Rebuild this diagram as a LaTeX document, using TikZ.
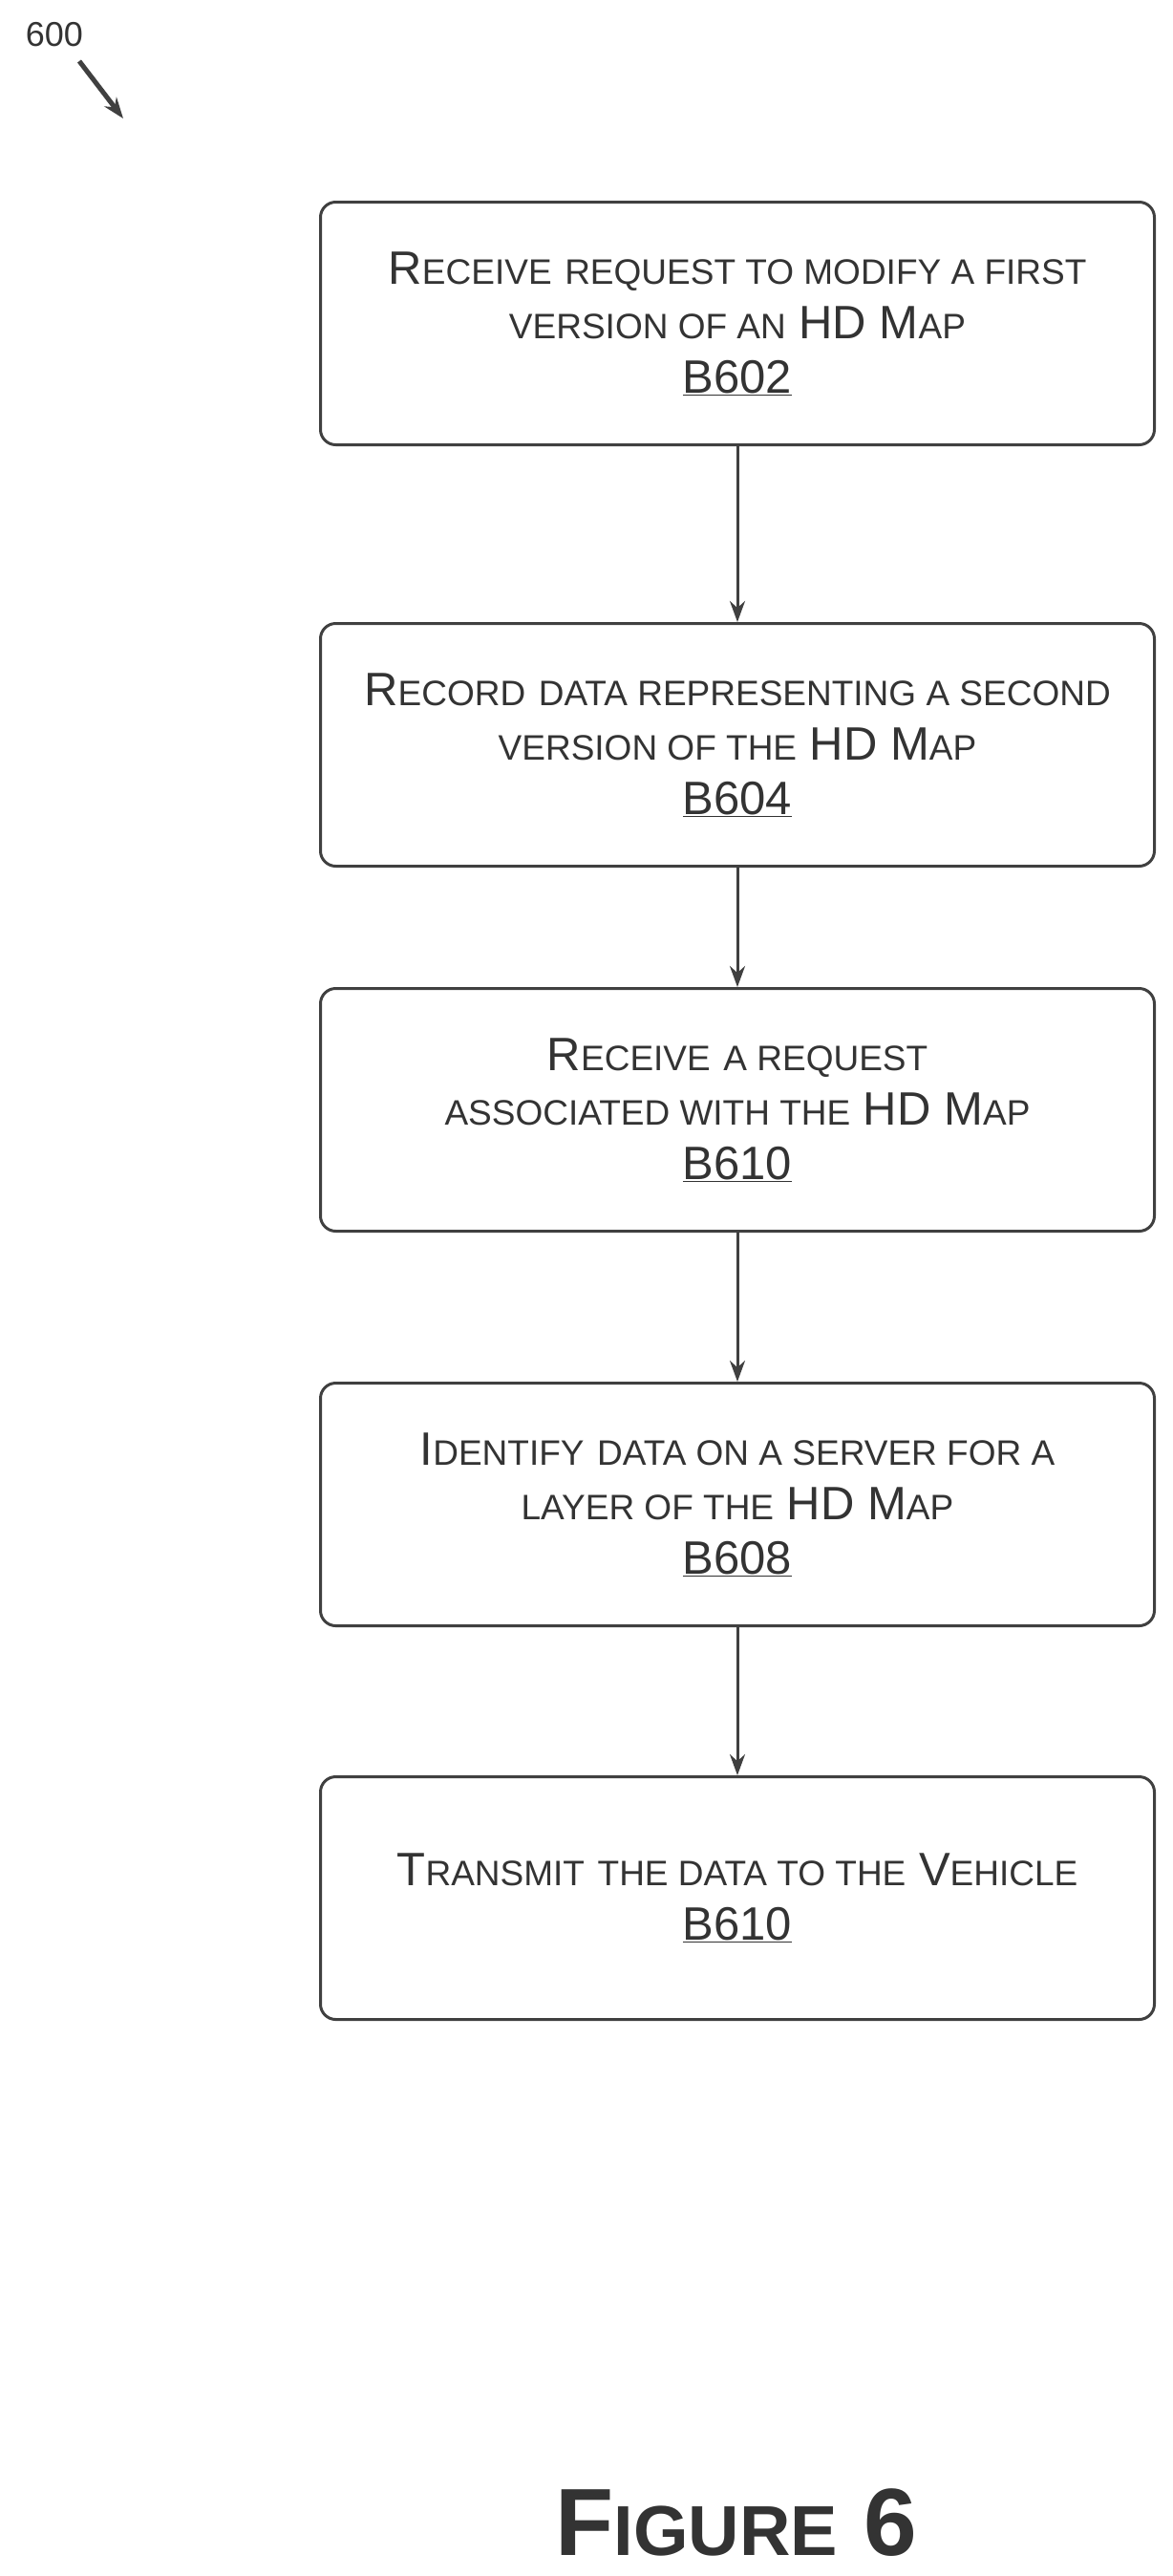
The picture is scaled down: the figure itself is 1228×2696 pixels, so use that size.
\documentclass[tikz,border=0pt]{standalone}
\usepackage{fontspec}
\setmainfont{Liberation Sans}
\usetikzlibrary{arrows.meta}
\newcommand\fs[2]{#1{\fontsize{37}{37}\selectfont\MakeUppercase{#2}}}
\newcommand\sm[1]{{\fontsize{37}{37}\selectfont\MakeUppercase{#1}}}
\begin{document}
\begin{tikzpicture}[x=1pt,y=-1pt,
  box/.style={draw=black!75,line width=3pt,rounded corners=16pt,minimum width=873pt,minimum height=254pt,anchor=north west,align=center,font=\fontsize{49}{57}\selectfont,text=black!80},
  arr/.style={draw=black!75,line width=3pt,-{Stealth[length=22pt,width=16pt]}}]
\useasboundingbox (0,0) rectangle (1228,2696);
\node[box] (b1) at (334,210) {\fs{R}{eceive} \sm{request to modify a first}\\ \sm{version of an} HD \fs{M}{ap}\\ \underline{B602}};
\node[box] (b2) at (334,651) {\fs{R}{ecord} \sm{data representing a second}\\ \sm{version of the} HD \fs{M}{ap}\\ \underline{B604}};
\node[box] (b3) at (334,1033) {\fs{R}{eceive} \sm{a request}\\ \sm{associated with the} HD \fs{M}{ap}\\ \underline{B610}};
\node[box] (b4) at (334,1446) {\fs{I}{dentify} \sm{data on a server for a}\\ \sm{layer of the} HD \fs{M}{ap}\\ \underline{B608}};
\node[box] (b5) at (334,1858) {\fs{T}{ransmit} \sm{the data to the} \fs{V}{ehicle}\\ \underline{B610}};
\draw[arr] (b1.south) -- (b2.north);
\draw[arr] (b2.south) -- (b3.north);
\draw[arr] (b3.south) -- (b4.north);
\draw[arr] (b4.south) -- (b5.north);
\node[font=\fontsize{36}{36}\selectfont,text=black!80] (n600) at (57,36) {600};
\coordinate (tip) at (129,124);
\draw[arr,line width=5pt] (83,64) -- (tip);
\node[font=\fontsize{100}{100}\selectfont\bfseries,text=black!80] (fig) at (771,2640) {F{\fontsize{74}{74}\selectfont IGURE} 6};
\end{tikzpicture}
\end{document}
